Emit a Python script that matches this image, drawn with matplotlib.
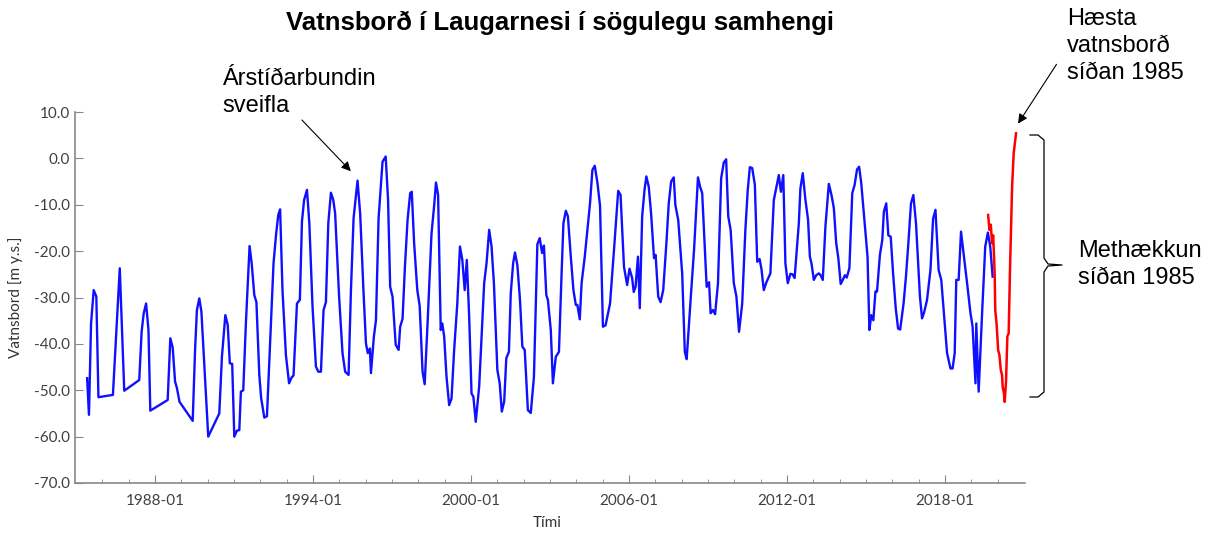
import matplotlib.pyplot as plt
from matplotlib.ticker import MultipleLocator, FixedLocator

# decimal year, water level [m y.s.]
blue_t = [1985.42, 1985.49, 1985.57, 1985.67, 1985.77, 1985.85, 1986.40, 1986.66, 1986.83,
          1987.40, 1987.49, 1987.57, 1987.66, 1987.75, 1987.82, 1988.48, 1988.58, 1988.67,
          1988.76, 1988.83, 1988.93, 1989.43, 1989.52, 1989.59, 1989.68, 1989.76, 1990.02,
          1990.44, 1990.54, 1990.67, 1990.76, 1990.84, 1990.93, 1991.01, 1991.11, 1991.20,
          1991.26, 1991.35, 1991.45, 1991.59, 1991.67, 1991.77, 1991.85, 1991.96, 1992.03,
          1992.15, 1992.25, 1992.40, 1992.50, 1992.60, 1992.68, 1992.75, 1992.84, 1992.97,
          1993.09, 1993.18, 1993.26, 1993.39, 1993.50, 1993.58, 1993.66, 1993.77, 1993.86,
          1993.98, 1994.11, 1994.20, 1994.30, 1994.40, 1994.49, 1994.58, 1994.68, 1994.77,
          1994.84, 1994.99, 1995.12, 1995.22, 1995.35, 1995.44, 1995.54, 1995.69, 1995.79,
          1995.92, 1996.01, 1996.08, 1996.16, 1996.20, 1996.31, 1996.39, 1996.49, 1996.64,
          1996.76, 1996.85, 1996.93, 1997.02, 1997.14, 1997.25, 1997.31, 1997.40, 1997.49,
          1997.59, 1997.69, 1997.75, 1997.84, 1997.96, 1998.05, 1998.16, 1998.24, 1998.35,
          1998.50, 1998.60, 1998.67, 1998.75, 1998.85, 1998.91, 1998.98, 1999.07, 1999.17,
          1999.26, 1999.36, 1999.48, 1999.58, 1999.67, 1999.76, 1999.84, 1999.93, 2000.02,
          2000.09, 2000.18, 2000.31, 2000.50, 2000.59, 2000.69, 2000.78, 2000.87, 2001.00,
          2001.09, 2001.17, 2001.26, 2001.34, 2001.44, 2001.51, 2001.60, 2001.67, 2001.76,
          2001.86, 2001.95, 2002.04, 2002.16, 2002.27, 2002.39, 2002.52, 2002.61, 2002.70,
          2002.77, 2002.86, 2002.92, 2003.03, 2003.11, 2003.22, 2003.34, 2003.44, 2003.51,
          2003.60, 2003.68, 2003.79, 2003.89, 2003.98, 2004.04, 2004.13, 2004.20, 2004.32,
          2004.52, 2004.61, 2004.70, 2004.80, 2004.90, 2005.01, 2005.11, 2005.28, 2005.43,
          2005.59, 2005.68, 2005.81, 2005.93, 2006.02, 2006.12, 2006.18, 2006.25, 2006.34,
          2006.41, 2006.50, 2006.59, 2006.66, 2006.75, 2006.84, 2006.95, 2007.01, 2007.11,
          2007.20, 2007.30, 2007.42, 2007.51, 2007.60, 2007.70, 2007.76, 2007.87, 2008.02,
          2008.12, 2008.19, 2008.34, 2008.47, 2008.62, 2008.70, 2008.78, 2008.95, 2009.04,
          2009.10, 2009.19, 2009.27, 2009.38, 2009.50, 2009.60, 2009.69, 2009.77, 2009.86,
          2009.98, 2010.08, 2010.18, 2010.30, 2010.42, 2010.51, 2010.59, 2010.68, 2010.78,
          2010.87, 2010.96, 2011.03, 2011.12, 2011.22, 2011.37, 2011.50, 2011.69, 2011.77,
          2011.86, 2011.94, 2012.03, 2012.13, 2012.21, 2012.29, 2012.45, 2012.51, 2012.60,
          2012.70, 2012.80, 2012.87, 2012.93, 2013.02, 2013.11, 2013.21, 2013.28, 2013.36,
          2013.46, 2013.59, 2013.69, 2013.78, 2013.87, 2013.95, 2014.04, 2014.12, 2014.20,
          2014.27, 2014.37, 2014.48, 2014.57, 2014.66, 2014.74, 2014.82, 2015.06, 2015.13,
          2015.20, 2015.28, 2015.36, 2015.42, 2015.53, 2015.62, 2015.68, 2015.77, 2015.85,
          2015.94, 2016.03, 2016.13, 2016.22, 2016.30, 2016.43, 2016.52, 2016.61, 2016.71,
          2016.80, 2016.90, 2016.97, 2017.05, 2017.13, 2017.21, 2017.32, 2017.45, 2017.55,
          2017.64, 2017.76, 2017.86, 2018.08, 2018.21, 2018.29, 2018.37, 2018.43, 2018.52,
          2018.61, 2018.71, 2018.84, 2018.97, 2019.05, 2019.16, 2019.19, 2019.28, 2019.41,
          2019.53, 2019.63, 2019.72, 2019.81]
blue_v = [-47.4, -55.3, -35.6, -28.4, -29.8, -51.5, -51.0, -23.7, -50.1,
          -47.8, -37.4, -33.4, -31.3, -37.0, -54.4, -52.1, -38.8, -40.8,
          -48.1, -49.5, -52.5, -56.6, -41.3, -32.7, -30.2, -33.0, -60.0,
          -55.0, -42.8, -33.8, -35.9, -44.2, -44.3, -60.0, -58.7, -58.6,
          -50.3, -50.0, -35.6, -18.9, -22.6, -29.5, -31.0, -46.7, -51.7,
          -55.9, -55.6, -35.6, -22.6, -16.2, -12.2, -11.0, -28.4, -42.4,
          -48.5, -47.3, -46.8, -31.3, -30.5, -13.6, -9.0, -6.8, -14.0,
          -31.8, -44.9, -46.0, -46.0, -32.7, -31.0, -14.0, -7.4, -9.0,
          -11.9, -29.8, -42.0, -46.0, -46.7, -28.4, -12.9, -4.8, -11.9,
          -29.1, -39.9, -42.0, -41.0, -46.3, -38.5, -34.9, -12.9, -0.7,
          0.4, -9.0, -27.7, -29.8, -40.2, -41.3, -36.3, -34.6, -23.4,
          -13.3, -7.5, -7.2, -18.3, -28.4, -31.8, -46.0, -48.7, -35.6,
          -16.2, -10.2, -5.2, -7.9, -37.0, -35.6, -38.4, -47.1, -53.2,
          -51.8, -41.3, -31.2, -19.0, -21.9, -28.4, -21.9, -34.1, -50.7,
          -51.4, -56.8, -49.2, -26.9, -22.6, -15.4, -19.0, -26.9, -45.6,
          -48.5, -54.6, -52.4, -43.1, -41.7, -29.1, -22.6, -20.3, -23.0,
          -30.5, -40.6, -41.3, -54.3, -54.9, -47.1, -18.5, -17.2, -20.4,
          -18.8, -29.5, -30.5, -37.0, -48.5, -42.8, -41.7, -24.8, -14.0,
          -11.3, -12.5, -21.2, -28.4, -31.6, -31.6, -34.7, -26.9, -21.2,
          -9.7, -2.5, -1.6, -5.2, -10.2, -36.3, -36.0, -31.3, -19.8,
          -7.0, -7.9, -23.4, -27.3, -23.8, -25.8, -28.8, -27.7, -21.2,
          -32.3, -12.5, -6.8, -3.9, -6.1, -11.9, -21.5, -20.8, -29.8,
          -31.0, -28.4, -18.3, -9.7, -5.0, -4.1, -10.0, -13.3, -24.8,
          -41.7, -43.3, -30.5, -19.8, -4.1, -6.1, -7.5, -27.7, -26.7,
          -33.4, -32.7, -33.6, -26.9, -4.3, -0.9, -0.2, -12.5, -15.4,
          -26.9, -29.8, -37.4, -31.3, -15.4, -6.8, -1.9, -2.1, -5.7,
          -22.3, -21.7, -23.8, -28.4, -26.7, -24.8, -9.0, -3.6, -7.2,
          -3.6, -22.6, -26.9, -24.9, -25.0, -25.8, -14.0, -6.5, -3.2,
          -8.9, -13.2, -21.2, -22.6, -26.2, -25.2, -24.8, -25.2, -26.2,
          -14.7, -5.5, -7.9, -10.7, -18.3, -21.5, -27.1, -26.2, -25.2,
          -25.7, -23.7, -7.5, -5.7, -2.4, -1.8, -5.3, -21.2, -37.0,
          -33.8, -34.9, -28.7, -28.7, -20.8, -17.6, -11.5, -9.7, -16.6,
          -16.9, -24.8, -32.3, -36.7, -36.9, -31.2, -25.4, -18.3, -9.7,
          -7.9, -14.0, -21.2, -29.8, -34.5, -33.2, -30.5, -24.0, -13.0,
          -11.1, -24.1, -26.2, -42.0, -45.3, -45.3, -42.0, -26.2, -26.2,
          -15.8, -20.6, -26.9, -33.4, -36.3, -48.5, -35.6, -50.3, -33.4,
          -19.0, -16.0, -19.0, -25.5]

red_t = [2019.64, 2019.69, 2019.74, 2019.79, 2019.83, 2019.86, 2019.89, 2019.91, 2019.96,
         2020.02, 2020.07, 2020.12, 2020.17, 2020.19, 2020.24, 2020.27, 2020.32, 2020.37,
         2020.42, 2020.47, 2020.55, 2020.61, 2020.70]
red_v = [-12.2, -15.4, -14.3, -18.3, -16.6, -20.5, -25.5, -32.7, -35.6,
         -41.3, -42.5, -45.6, -46.8, -49.2, -50.6, -52.5, -48.0, -38.4,
         -37.7, -24.1, -6.1, 1.1, 5.4]

year_ticks = [1988, 1994, 2000, 2006, 2012, 2018]
year_labels = ["1988-01", "1994-01", "2000-01", "2006-01", "2012-01", "2018-01"]

W, H = 1208, 533
fig = plt.figure(figsize=(W / 100, H / 100), dpi=100)
ax = fig.add_axes([75 / W, 1 - 483 / H, 950 / W, 371 / H])

ax.plot(blue_t, blue_v, color="#1010ff", lw=1.7)
ax.plot(red_t, red_v, color="#ff0000", lw=1.8)

ax.set_xlim(1984.96, 2021.04)
ax.set_ylim(-70, 10)
ax.yaxis.set_major_locator(MultipleLocator(10))
ax.set_yticklabels([f"{v:.1f}" for v in ax.get_yticks()])
ax.set_xticks(year_ticks)
ax.set_xticklabels(year_labels)
ax.xaxis.set_minor_locator(FixedLocator(range(1986, 2021)))

for s in ["top", "right"]:
    ax.spines[s].set_visible(False)
for s in ["left", "bottom"]:
    ax.spines[s].set_color("#888888")
    ax.spines[s].set_linewidth(1.2)
ax.tick_params(axis="both", which="major", direction="in", length=6, color="#888888",
               labelsize=11, labelcolor="#404040")
ax.tick_params(axis="x", which="minor", direction="in", length=3, color="#888888")
ax.tick_params(axis="x", pad=8)
for lab in ax.get_xticklabels() + ax.get_yticklabels():
    lab.set_family("Lato")

fig.text(16 / W, 1 - 297 / H, "Vatnsbord [m y.s.]", rotation=90, ha="center", va="center",
         fontsize=11, color="#333333", family="Lato")
fig.text(547 / W, 1 - 523 / H, "Tími", ha="center", va="center", fontsize=11,
         color="#333333", family="Lato")

fig.text(560 / W, 1 - 23 / H, "Vatnsborð í Laugarnesi í sögulegu samhengi", ha="center",
         va="center", fontsize=18.5, fontweight="bold", family="Liberation Sans")

fig.text(222 / W, 1 - 68 / H, "Árstíðarbundin\nsveifla", ha="left", va="top", fontsize=17,
         family="Liberation Sans", linespacing=1.3)
fig.text(1067 / W, 1 - 8 / H, "Hæsta\nvatnsborð\nsíðan 1985", ha="left", va="top",
         fontsize=17, family="Liberation Sans", linespacing=1.3)
fig.text(1078 / W, 1 - 240 / H, "Methækkun\nsíðan 1985", ha="left", va="top", fontsize=17,
         family="Liberation Sans", linespacing=1.3)

arrow = dict(arrowstyle="-|>", color="black", lw=0.8, mutation_scale=14)
ax.annotate("", xy=(1995.51, -3.2), xytext=(300 / W, 1 - 118 / H),
            textcoords="figure fraction", arrowprops=arrow, annotation_clip=False)
ax.annotate("", xy=(2020.72, 7.0), xytext=(1058 / W, 1 - 62 / H),
            textcoords="figure fraction", arrowprops=arrow, annotation_clip=False)

# curly brace, figure pixels measured from the top
bx = [1030, 1038, 1044, 1044, 1048, 1062, 1048, 1044, 1044, 1038, 1030]
by = [135, 135, 140, 258, 264, 265, 266, 272, 392, 397, 397]
fig.add_artist(plt.Line2D([x / W for x in bx], [1 - y / H for y in by], color="black",
                          lw=0.9, transform=fig.transFigure))

fig.savefig("out.png", dpi=100)
